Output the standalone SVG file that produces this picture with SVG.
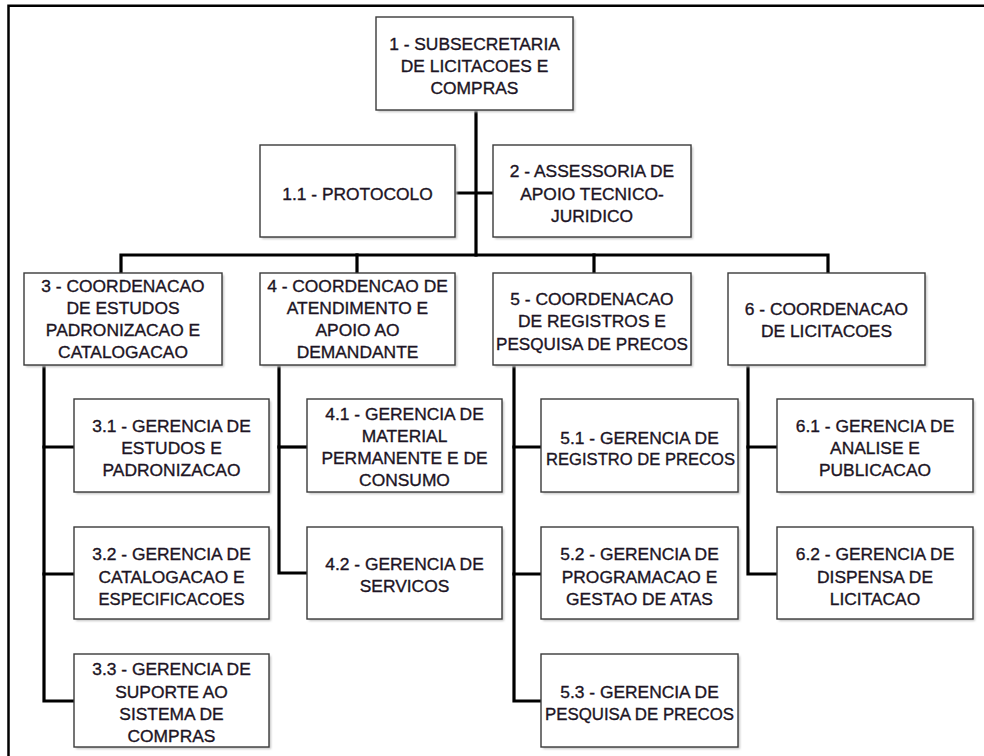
<svg xmlns="http://www.w3.org/2000/svg" width="984" height="756" viewBox="0 0 984 756">
  <style>
    .frame { fill: none; stroke: #000; stroke-width: 2.5; }
    .link { fill: none; stroke: #000; stroke-width: 3.2; stroke-linejoin: miter; stroke-linecap: square; }
    .shadow { fill: #c4c4c4; }
    .box { fill: #fff; stroke: #3a3a3a; stroke-width: 1.4; }
    .lbl { font-family: "Liberation Sans", Arial, sans-serif; font-size: 17.4px; fill: #1c1424; stroke: #1c1424; stroke-width: 0.35; text-anchor: middle; }
  </style>
  <defs>
    <filter id="soft" x="-10%" y="-10%" width="130%" height="130%">
      <feGaussianBlur stdDeviation="0.8"/>
    </filter>
  </defs>

  <rect width="984" height="756" fill="#fff"/>
  <!-- page frame (top and left edges) -->
  <path class="frame" d="M8.5,756 V5.8 H984"/>

  <!-- connectors -->
  <g id="connectors">
    <path class="link" d="M476,110 V255"/>
    <path class="link" d="M455,193 H493"/>
    <path class="link" d="M121,273 V255 H828 V273"/>
    <path class="link" d="M357,255 V273"/>
    <path class="link" d="M594,255 V273"/>
    <path class="link" d="M44,365 V701 H74"/>
    <path class="link" d="M44,447 H74 M44,574 H74"/>
    <path class="link" d="M279,365 V573 H307"/>
    <path class="link" d="M279,447 H307"/>
    <path class="link" d="M514,365 V701 H541"/>
    <path class="link" d="M514,447 H541 M514,574 H541"/>
    <path class="link" d="M748,365 V574 H777"/>
    <path class="link" d="M748,447 H777"/>
  </g>

  <!-- level 0 -->
  <g id="n1">
    <rect class="shadow" x="378" y="19" width="197" height="93" filter="url(#soft)"/>
    <rect class="box" x="376" y="17" width="197" height="93"/>
    <text class="lbl" x="474.5" y="49.5">1 - SUBSECRETARIA</text>
    <text class="lbl" x="474.5" y="71.5">DE LICITACOES E</text>
    <text class="lbl" x="474.5" y="93.5">COMPRAS</text>
  </g>

  <g id="n1-1">
    <rect class="shadow" x="262" y="147" width="195" height="92" filter="url(#soft)"/>
    <rect class="box" x="260" y="145" width="195" height="92"/>
    <text class="lbl" x="357.5" y="199.5">1.1 - PROTOCOLO</text>
  </g>

  <g id="n2">
    <rect class="shadow" x="495" y="147" width="198" height="92" filter="url(#soft)"/>
    <rect class="box" x="493" y="145" width="198" height="92"/>
    <text class="lbl" x="592" y="176.5">2 - ASSESSORIA DE</text>
    <text class="lbl" x="592" y="199.5">APOIO TECNICO-</text>
    <text class="lbl" x="592" y="221.5">JURIDICO</text>
  </g>

  <!-- coordinations -->
  <g id="n3">
    <rect class="shadow" x="26" y="275" width="198" height="92" filter="url(#soft)"/>
    <rect class="box" x="24" y="273" width="198" height="92"/>
    <text class="lbl" x="123" y="291.5">3 - COORDENACAO</text>
    <text class="lbl" x="123" y="313.5">DE ESTUDOS</text>
    <text class="lbl" x="123" y="335.5">PADRONIZACAO E</text>
    <text class="lbl" x="123" y="358">CATALOGACAO</text>
  </g>

  <g id="n4">
    <rect class="shadow" x="262" y="275" width="195" height="92" filter="url(#soft)"/>
    <rect class="box" x="260" y="273" width="195" height="92"/>
    <text class="lbl" x="357.5" y="291.5">4 - COORDENCAO DE</text>
    <text class="lbl" x="357.5" y="313.5">ATENDIMENTO E</text>
    <text class="lbl" x="357.5" y="335.5">APOIO AO</text>
    <text class="lbl" x="357.5" y="358">DEMANDANTE</text>
  </g>

  <g id="n5">
    <rect class="shadow" x="495" y="275" width="198" height="92" filter="url(#soft)"/>
    <rect class="box" x="493" y="273" width="198" height="92"/>
    <text class="lbl" x="592" y="304.5">5 - COORDENACAO</text>
    <text class="lbl" x="592" y="327">DE REGISTROS E</text>
    <text class="lbl" x="592" y="349.5" textLength="192" lengthAdjust="spacingAndGlyphs">PESQUISA DE PRECOS</text>
  </g>

  <g id="n6">
    <rect class="shadow" x="730" y="275" width="197" height="92" filter="url(#soft)"/>
    <rect class="box" x="728" y="273" width="197" height="92"/>
    <text class="lbl" x="826.5" y="314.5">6 - COORDENACAO</text>
    <text class="lbl" x="826.5" y="336.5">DE LICITACOES</text>
  </g>

  <!-- managements under 3 -->
  <g id="n3-1">
    <rect class="shadow" x="76" y="401" width="195" height="93" filter="url(#soft)"/>
    <rect class="box" x="74" y="399" width="195" height="93"/>
    <text class="lbl" x="171.5" y="431.5">3.1 - GERENCIA DE</text>
    <text class="lbl" x="171.5" y="453.5">ESTUDOS E</text>
    <text class="lbl" x="171.5" y="475.5">PADRONIZACAO</text>
  </g>

  <g id="n3-2">
    <rect class="shadow" x="76" y="529" width="195" height="92" filter="url(#soft)"/>
    <rect class="box" x="74" y="527" width="195" height="92"/>
    <text class="lbl" x="171.5" y="559.5">3.2 - GERENCIA DE</text>
    <text class="lbl" x="171.5" y="582.5">CATALOGACAO E</text>
    <text class="lbl" x="171.5" y="604.5" textLength="146" lengthAdjust="spacingAndGlyphs">ESPECIFICACOES</text>
  </g>

  <g id="n3-3">
    <rect class="shadow" x="76" y="656" width="195" height="93" filter="url(#soft)"/>
    <rect class="box" x="74" y="654" width="195" height="93"/>
    <text class="lbl" x="171.5" y="674.5">3.3 - GERENCIA DE</text>
    <text class="lbl" x="171.5" y="697.5">SUPORTE AO</text>
    <text class="lbl" x="171.5" y="719.5">SISTEMA DE</text>
    <text class="lbl" x="171.5" y="741.5">COMPRAS</text>
  </g>

  <!-- managements under 4 -->
  <g id="n4-1">
    <rect class="shadow" x="309" y="401" width="195" height="93" filter="url(#soft)"/>
    <rect class="box" x="307" y="399" width="195" height="93"/>
    <text class="lbl" x="404.5" y="419.5">4.1 - GERENCIA DE</text>
    <text class="lbl" x="404.5" y="441.5">MATERIAL</text>
    <text class="lbl" x="404.5" y="463.5">PERMANENTE E DE</text>
    <text class="lbl" x="404.5" y="485.5">CONSUMO</text>
  </g>

  <g id="n4-2">
    <rect class="shadow" x="309" y="529" width="195" height="92" filter="url(#soft)"/>
    <rect class="box" x="307" y="527" width="195" height="92"/>
    <text class="lbl" x="404.5" y="569.5">4.2 - GERENCIA DE</text>
    <text class="lbl" x="404.5" y="591.5">SERVICOS</text>
  </g>

  <!-- managements under 5 -->
  <g id="n5-1">
    <rect class="shadow" x="543" y="401" width="197" height="93" filter="url(#soft)"/>
    <rect class="box" x="541" y="399" width="197" height="93"/>
    <text class="lbl" x="639.5" y="443.5">5.1 - GERENCIA DE</text>
    <text class="lbl" x="640.5" y="464.5" textLength="189" lengthAdjust="spacingAndGlyphs">REGISTRO DE PRECOS</text>
  </g>

  <g id="n5-2">
    <rect class="shadow" x="543" y="529" width="197" height="92" filter="url(#soft)"/>
    <rect class="box" x="541" y="527" width="197" height="92"/>
    <text class="lbl" x="639.5" y="559.5">5.2 - GERENCIA DE</text>
    <text class="lbl" x="639.5" y="582.5">PROGRAMACAO E</text>
    <text class="lbl" x="639.5" y="604.5">GESTAO DE ATAS</text>
  </g>

  <g id="n5-3">
    <rect class="shadow" x="543" y="656" width="197" height="93" filter="url(#soft)"/>
    <rect class="box" x="541" y="654" width="197" height="93"/>
    <text class="lbl" x="639.5" y="697.5">5.3 - GERENCIA DE</text>
    <text class="lbl" x="639.5" y="719.5" textLength="189" lengthAdjust="spacingAndGlyphs">PESQUISA DE PRECOS</text>
  </g>

  <!-- managements under 6 -->
  <g id="n6-1">
    <rect class="shadow" x="779" y="401" width="196" height="93" filter="url(#soft)"/>
    <rect class="box" x="777" y="399" width="196" height="93"/>
    <text class="lbl" x="875" y="431.5">6.1 - GERENCIA DE</text>
    <text class="lbl" x="875" y="453.5">ANALISE E</text>
    <text class="lbl" x="875" y="475.5">PUBLICACAO</text>
  </g>

  <g id="n6-2">
    <rect class="shadow" x="779" y="529" width="196" height="92" filter="url(#soft)"/>
    <rect class="box" x="777" y="527" width="196" height="92"/>
    <text class="lbl" x="875" y="559.5">6.2 - GERENCIA DE</text>
    <text class="lbl" x="875" y="582.5">DISPENSA DE</text>
    <text class="lbl" x="875" y="604.5">LICITACAO</text>
  </g>
</svg>
